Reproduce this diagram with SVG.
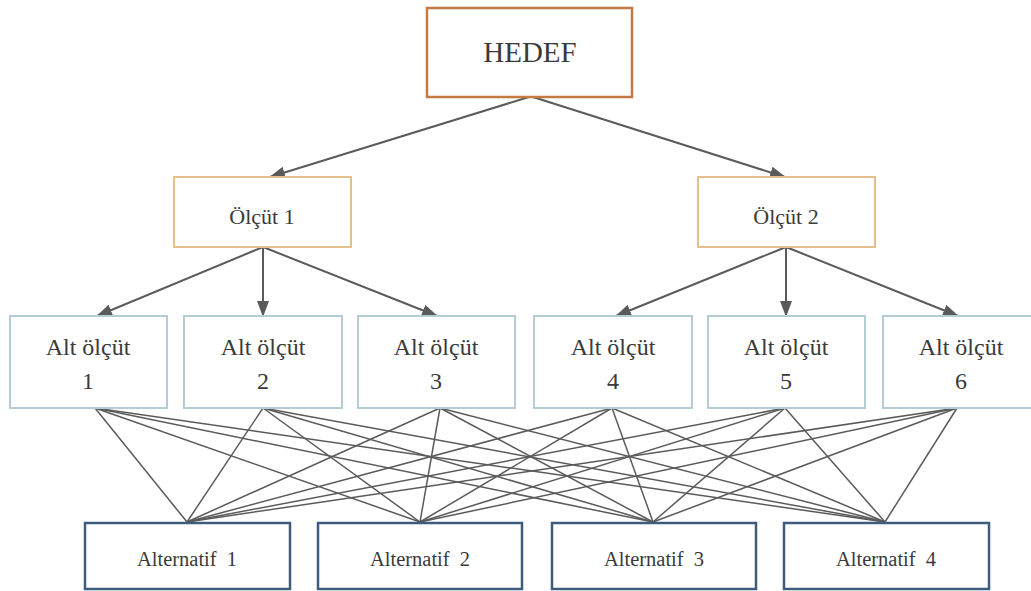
<svg xmlns="http://www.w3.org/2000/svg" width="1031" height="591" viewBox="0 0 1031 591" font-family="'Liberation Serif', 'Times New Roman', 'DejaVu Serif', serif">
<style>
text{font-family:'Liberation Serif','Times New Roman','DejaVu Serif',serif;fill:#3a3a3a;text-anchor:middle}
.goal{fill:#fff;stroke:#c47a44;stroke-width:2.5}
.crit{fill:#fff;stroke:#e6bf8a;stroke-width:2}
.sub{fill:#fff;stroke:#b4ccd6;stroke-width:2}
.alt{fill:#fff;stroke:#3f5c7e;stroke-width:2.5}
.arr{stroke:#5a5a5a;stroke-width:2;fill:none;marker-end:url(#ah)}
.ln{stroke:#5a5a5a;stroke-width:1.5;fill:none}
.t28{font-size:29px}.t22{font-size:22px}.t25{font-size:24px}.t20{font-size:20.5px;word-spacing:5px}
</style>
<defs>
<marker id="ah" markerUnits="userSpaceOnUse" markerWidth="16" markerHeight="12" refX="15" refY="6" orient="auto">
<path d="M0,0 L16,6 L0,12 z" fill="#5a5a5a"/>
</marker>
</defs>
<rect width="1031" height="591" fill="#ffffff"/>
<g id="connectors">
<line class="arr" x1="529" y1="97" x2="270" y2="177"/>
<line class="arr" x1="533" y1="97" x2="785" y2="177"/>
<line class="arr" x1="263" y1="247" x2="97" y2="316"/>
<line class="arr" x1="263" y1="247" x2="263" y2="316"/>
<line class="arr" x1="263" y1="247" x2="437" y2="316"/>
<line class="arr" x1="786" y1="247" x2="616" y2="316"/>
<line class="arr" x1="786" y1="247" x2="786" y2="316"/>
<line class="arr" x1="786" y1="247" x2="958" y2="316"/>
<g id="fan">
<line class="ln" x1="95" y1="408" x2="187" y2="522"/><line class="ln" x1="95" y1="408" x2="420" y2="522"/><line class="ln" x1="95" y1="408" x2="653" y2="522"/><line class="ln" x1="95" y1="408" x2="885" y2="522"/>
<line class="ln" x1="263" y1="408" x2="187" y2="522"/><line class="ln" x1="263" y1="408" x2="420" y2="522"/><line class="ln" x1="263" y1="408" x2="653" y2="522"/><line class="ln" x1="263" y1="408" x2="885" y2="522"/>
<line class="ln" x1="440" y1="408" x2="187" y2="522"/><line class="ln" x1="440" y1="408" x2="420" y2="522"/><line class="ln" x1="440" y1="408" x2="653" y2="522"/><line class="ln" x1="440" y1="408" x2="885" y2="522"/>
<line class="ln" x1="612" y1="408" x2="187" y2="522"/><line class="ln" x1="612" y1="408" x2="420" y2="522"/><line class="ln" x1="612" y1="408" x2="653" y2="522"/><line class="ln" x1="612" y1="408" x2="885" y2="522"/>
<line class="ln" x1="785" y1="408" x2="187" y2="522"/><line class="ln" x1="785" y1="408" x2="420" y2="522"/><line class="ln" x1="785" y1="408" x2="653" y2="522"/><line class="ln" x1="785" y1="408" x2="885" y2="522"/>
<line class="ln" x1="957" y1="408" x2="187" y2="522"/><line class="ln" x1="957" y1="408" x2="420" y2="522"/><line class="ln" x1="957" y1="408" x2="653" y2="522"/><line class="ln" x1="957" y1="408" x2="885" y2="522"/>
</g>
</g>
<g id="hedef"><rect class="goal" x="427" y="8" width="205" height="89"/><text class="t28" x="530" y="62">HEDEF</text></g>
<g id="olcut1"><rect class="crit" x="174" y="177" width="177" height="70"/><text class="t22" x="262" y="224">Ölçüt 1</text></g>
<g id="olcut2"><rect class="crit" x="698" y="177" width="177" height="70"/><text class="t22" x="786" y="224">Ölçüt 2</text></g>
<g id="alt1"><rect class="sub" x="10" y="316" width="157" height="92"/><text class="t25" x="88" y="355">Alt ölçüt</text><text class="t25" x="88" y="389">1</text></g>
<g id="alt2"><rect class="sub" x="184" y="316" width="158" height="92"/><text class="t25" x="263" y="355">Alt ölçüt</text><text class="t25" x="263" y="389">2</text></g>
<g id="alt3"><rect class="sub" x="358" y="316" width="157" height="92"/><text class="t25" x="436" y="355">Alt ölçüt</text><text class="t25" x="436" y="389">3</text></g>
<g id="alt4"><rect class="sub" x="534" y="316" width="158" height="92"/><text class="t25" x="613" y="355">Alt ölçüt</text><text class="t25" x="613" y="389">4</text></g>
<g id="alt5"><rect class="sub" x="708" y="316" width="157" height="92"/><text class="t25" x="786" y="355">Alt ölçüt</text><text class="t25" x="786" y="389">5</text></g>
<g id="alt6"><rect class="sub" x="883" y="316" width="157" height="92"/><text class="t25" x="961" y="355">Alt ölçüt</text><text class="t25" x="961" y="389">6</text></g>
<g id="alternatif1"><rect class="alt" x="85" y="523" width="205" height="66"/><text class="t20" x="187" y="566">Alternatif 1</text></g>
<g id="alternatif2"><rect class="alt" x="318" y="523" width="204" height="66"/><text class="t20" x="420" y="566">Alternatif 2</text></g>
<g id="alternatif3"><rect class="alt" x="552" y="523" width="204" height="66"/><text class="t20" x="654" y="566">Alternatif 3</text></g>
<g id="alternatif4"><rect class="alt" x="784" y="523" width="205" height="66"/><text class="t20" x="886" y="566">Alternatif 4</text></g>
</svg>
